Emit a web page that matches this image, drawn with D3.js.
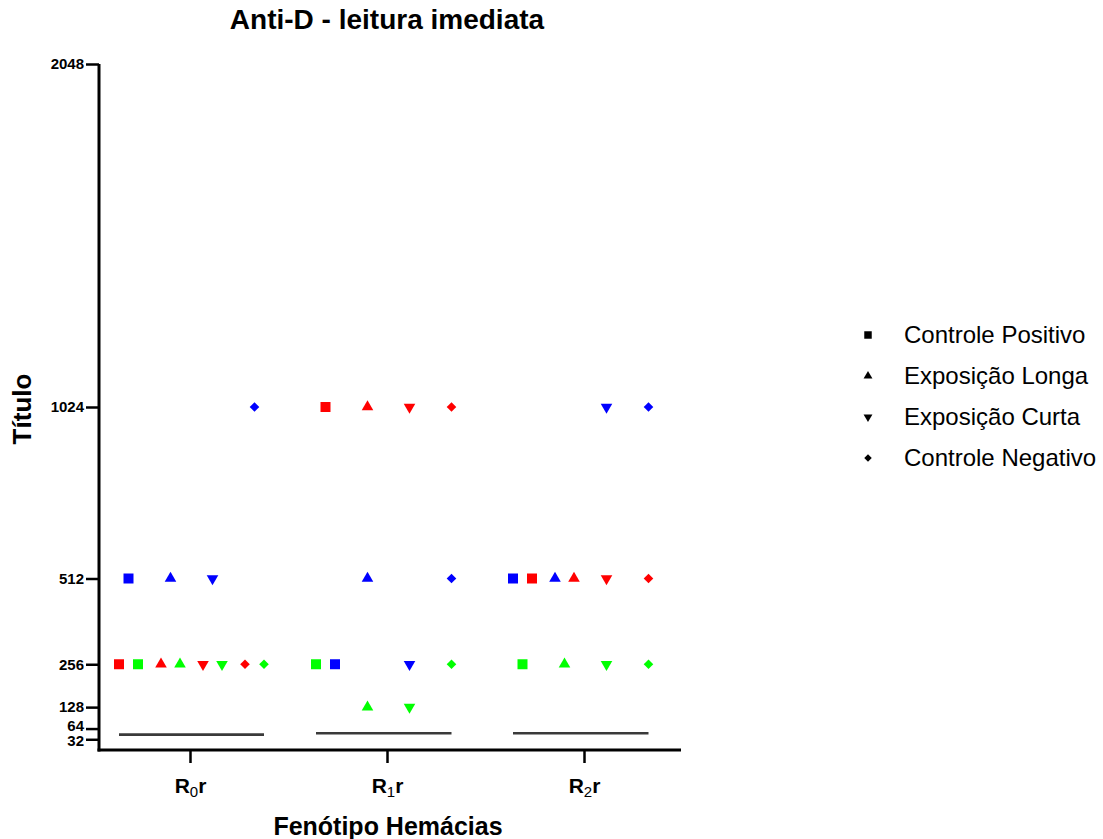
<!DOCTYPE html>
<html>
<head>
<meta charset="utf-8">
<script src="https://cdn.jsdelivr.net/npm/d3@7"></script>
<style>
  body { margin: 0; background: #fff; }
  svg { font-family: "Liberation Sans", Arial, sans-serif; }
</style>
</head>
<body>
<div id="wrapper"></div>
<script>
// categorias do eixo x (base, subscrito, final)
const categories = ["R0r", "R1r", "R2r"]
const categoryParts = [["R", "0", "r"], ["R", "1", "r"], ["R", "2", "r"]]
const series = ["Controle Positivo", "Exposição Longa", "Exposição Curta", "Controle Negativo"]
const replicateColors = ["#ff0000", "#00ff00", "#0000ff"]

// valores por réplica: [categoria][série]
const redValues = [[256, 256, 256, 256], [1024, 1024, 1024, 1024], [512, 512, 512, 512]]
const greenValues = [[256, 256, 256, 256], [256, 128, 128, 256], [256, 256, 256, 256]]
const blueValues = [[512, 512, 512, 1024], [256, 512, 256, 512], [512, 512, 1024, 1024]]
// ordem horizontal das réplicas quando coincidem
const jitterOrder = [[0, 1, 2], [0, 1, 2], [2, 0, 1]]
// linha horizontal por categoria
const lineValues = [46, 50, 50]

const yTicks = [32, 64, 128, 256, 512, 1024, 2048]

async function drawChart() {
    const replicates = [redValues, greenValues, blueValues]

    const dimensions = { width: 1103, height: 839 }

    const svg = d3.select("#wrapper").append("svg")
        .attr("width", dimensions.width)
        .attr("height", dimensions.height)

    // escalas
    const yScale = d3.scaleLinear().domain([0, 2048]).range([750, 64])
    const xScale = d3.scalePoint().domain(categories).range([92, 683]).padding(0.5)
    const seriesScale = d3.scalePoint().domain(series).range([-62, 64])
    const jitter = 9.5

    const shapes = [
        { type: d3.symbolSquare, size: 100, rotate: 0 },
        { type: d3.symbolTriangle, size: 58, rotate: 0 },
        { type: d3.symbolTriangle, size: 58, rotate: 180 },
        { type: d3.symbolSquare, size: 46, rotate: 45 }
    ]

    // monta os pontos
    const points = []
    categories.forEach((cat, ci) => {
        series.forEach((s, si) => {
            const groups = d3.group(jitterOrder[ci], r => replicates[r][ci][si])
            groups.forEach((reps, value) => {
                reps.forEach((r, k) => {
                    const off = (k - (reps.length - 1) / 2) * 2 * jitter
                    points.push({
                        cat, ci, si, r, value,
                        x: xScale(cat) + seriesScale(s) + off
                    })
                })
            })
        })
    })

    // linhas horizontais
    categories.forEach((cat, ci) => {
        const xs = points.filter(p => p.ci === ci).map(p => p.x)
        svg.append("line")
            .attr("x1", d3.min(xs)).attr("x2", d3.max(xs))
            .attr("y1", yScale(lineValues[ci])).attr("y2", yScale(lineValues[ci]))
            .attr("stroke", "#3a3a3a").attr("stroke-width", 2.6)
    })

    // eixos
    const yAxis = svg.append("g").attr("transform", "translate(99,0)")
        .call(d3.axisLeft(yScale).tickValues(yTicks).tickFormat(d3.format("d"))
            .tickSize(13).tickPadding(2).tickSizeOuter(0))
    yAxis.select(".domain").attr("d", `M0,${yScale(2048)}V${yScale(0) + 1.5}`)
        .attr("stroke-width", 3)
    yAxis.selectAll(".tick line").attr("stroke-width", 2.5)
    yAxis.selectAll(".tick text")
        .attr("font-size", 15).attr("font-weight", "bold").attr("fill", "#000")
        .attr("font-family", "Liberation Sans, Arial, sans-serif")
        .attr("dy", d => d === 64 ? "0.1em" : d === 32 ? "0.42em" : "0.32em")

    const xAxis = svg.append("g").attr("transform", `translate(0,${yScale(0)})`)
    xAxis.append("line").attr("x1", 97.5).attr("x2", 681).attr("stroke", "#000").attr("stroke-width", 3)
    categories.forEach((cat, ci) => {
        const x = xScale(cat)
        xAxis.append("line").attr("x1", x).attr("x2", x).attr("y1", 0).attr("y2", 13)
            .attr("stroke", "#000").attr("stroke-width", 2.5)
        const t = xAxis.append("text").attr("x", x).attr("y", 43)
            .attr("text-anchor", "middle").attr("font-size", 21).attr("font-weight", "bold")
        const parts = categoryParts[ci]
        t.append("tspan").text(parts[0])
        t.append("tspan").attr("font-size", 15).attr("font-weight", "normal").attr("dy", 4).text(parts[1])
        t.append("tspan").attr("dy", -4).text(parts[2])
    })

    // pontos
    svg.append("g").selectAll("path").data(points).join("path")
        .attr("d", d => d3.symbol(shapes[d.si].type, shapes[d.si].size)())
        .attr("transform", d => `translate(${d.x},${yScale(d.value)}) rotate(${shapes[d.si].rotate})`)
        .attr("fill", d => replicateColors[d.r])

    // títulos
    svg.append("text").attr("x", 387).attr("y", 29).attr("text-anchor", "middle")
        .attr("font-size", 28).attr("font-weight", "bold").text("Anti-D - leitura imediata")
    svg.append("text").attr("x", 388).attr("y", 835).attr("text-anchor", "middle")
        .attr("font-size", 25).attr("font-weight", "bold").text("Fenótipo Hemácias")
    svg.append("text").attr("transform", "translate(31,409) rotate(-90)").attr("text-anchor", "middle")
        .attr("font-size", 26).attr("font-weight", "bold").text("Título")

    // legenda
    const legendShapes = [
        { type: d3.symbolSquare, size: 56, rotate: 0 },
        { type: d3.symbolTriangle, size: 34, rotate: 0 },
        { type: d3.symbolTriangle, size: 34, rotate: 180 },
        { type: d3.symbolSquare, size: 28, rotate: 45 }
    ]
    const legend = svg.append("g").attr("transform", "translate(868,335)")
    series.forEach((s, i) => {
        const row = legend.append("g").attr("transform", `translate(0,${i * 41})`)
        row.append("path")
            .attr("d", d3.symbol(legendShapes[i].type, legendShapes[i].size)())
            .attr("transform", `rotate(${legendShapes[i].rotate})`)
            .attr("fill", "#000")
        row.append("text").attr("x", 36).attr("y", 8).attr("font-size", 24).text(s)
    })
}
drawChart()
</script>
</body>
</html>
